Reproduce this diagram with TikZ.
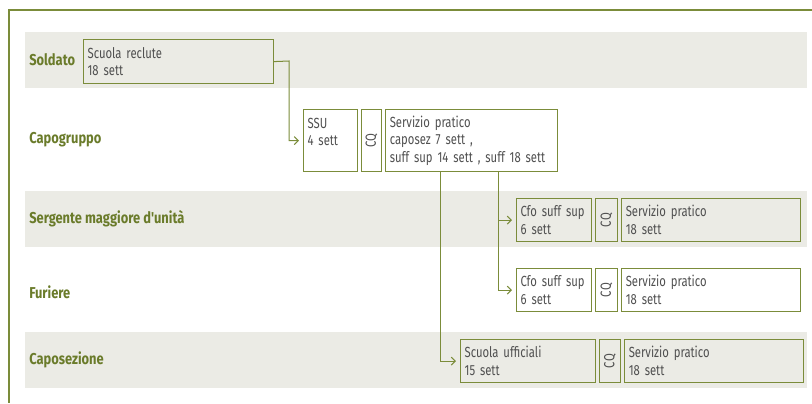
\documentclass[tikz,border=0pt]{standalone}
\usepackage{fontspec}
\setmainfont{Fira Sans}[FakeStretch=0.77]
\newfontfamily\rankfont{Fira Sans}[FakeStretch=0.82]
\usetikzlibrary{positioning}
\usetikzlibrary{arrows.meta}
\definecolor{lineColor}{HTML}{7B8C3A}
\definecolor{labelColor}{HTML}{6A7B2A}
\definecolor{textColor}{HTML}{505050}
\definecolor{bandColor}{HTML}{EBEBE5}

\begin{document}
\begin{tikzpicture}[x=0.75pt,y=-0.75pt]

            \tikzstyle{frame} = [line width=1.4pt, lineColor];
            \tikzstyle{band} = [fill=bandColor];
            \tikzstyle{rank} = [anchor=west, inner sep=0pt, text=labelColor, font=\rankfont\fontsize{11.8}{13}\selectfont\bfseries];
            \tikzstyle{stage} = [draw=lineColor, line width=0.9pt, text=textColor, align=left, anchor=north west,
                                 inner xsep=3pt, inner ysep=2pt, font=\fontsize{11}{13.2}\selectfont];
            \tikzstyle{cqbox} = [draw=lineColor, line width=0.9pt, text=textColor, inner sep=0pt,
                                 font=\fontsize{11}{12}\selectfont];
            \tikzstyle{flow} = [lineColor, line width=0.75pt, -{Straight Barb[length=3pt,width=6pt]}, shorten >=3pt];

            \useasboundingbox (0,0) rectangle (812,403);

            % frame and bands
            \draw[frame] (812,10) -- (9,10) -- (9,403);
            \fill[band] (25,32) rectangle (807,88);
            \fill[band] (25,191) rectangle (807,247);
            \fill[band] (25,332) rectangle (807,388);

            % ranks
            \node[rank] (soldato)    at (29,60)  {Soldato};
            \node[rank] (capogruppo) at (29,140) {Capogruppo};
            \node[rank] (sergente)   at (29,219) {Sergente maggiore d'unità};
            \node[rank] (furiere)    at (29,292) {Furiere};
            \node[rank] (caposez)    at (29,360) {Caposezione};

            % soldato
            \node[stage, text width=136.35pt, minimum height=33pt] (reclute) at (83,39) {Scuola reclute\\18 sett};

            % capogruppo
            \node[stage, text width=34.35pt, minimum height=46.5pt] (ssu) at (303,109) {SSU\\4 sett\\\phantom{0}};
            \node[cqbox, minimum width=15pt, minimum height=46.5pt, right=2.25pt of ssu] (cqA) {\rotatebox{90}{CQ}};
            \node[stage, text width=122.85pt, minimum height=46.5pt, anchor=west, right=2.25pt of cqA] (praticoA)
                {Servizio pratico\\caposez 7 sett ,\\suff sup 14 sett , suff 18 sett};

            % sergente maggiore
            \node[stage, text width=50.1pt, minimum height=32.25pt] (cfoA) at (516,198) {Cfo suff sup\\6 sett};
            \node[cqbox, minimum width=16.5pt, minimum height=32.25pt, right=2.25pt of cfoA] (cqB) {\rotatebox{90}{CQ}};
            \node[stage, text width=128.1pt, minimum height=32.25pt, anchor=west, right=2.25pt of cqB] (praticoB) {Servizio pratico\\18 sett};

            % furiere
            \node[stage, text width=50.1pt, minimum height=32.25pt] (cfoB) at (516,268) {Cfo suff sup\\6 sett};
            \node[cqbox, minimum width=16.5pt, minimum height=32.25pt, right=2.25pt of cfoB] (cqC) {\rotatebox{90}{CQ}};
            \node[stage, text width=128.1pt, minimum height=32.25pt, anchor=west, right=2.25pt of cqC] (praticoC) {Servizio pratico\\18 sett};

            % caposezione
            \node[stage, text width=95.1pt, minimum height=32.25pt] (ufficiali) at (460,339) {Scuola ufficiali\\15 sett};
            \node[cqbox, minimum width=15.75pt, minimum height=32.25pt, right=2.25pt of ufficiali] (cqD) {\rotatebox{90}{CQ}};
            \node[stage, text width=128.1pt, minimum height=32.25pt, anchor=west, right=2.25pt of cqD] (praticoD) {Servizio pratico\\18 sett};

            % connectors
            \coordinate (turnA) at (289,61);
            \coordinate (dropA) at (440,0);
            \coordinate (dropB) at (498,0);

            \draw[flow] (reclute.east) -- (turnA) |- (ssu.west);
            \draw[flow] (praticoA.south -| dropA) |- (ufficiali.west);
            \draw[flow] (praticoA.south -| dropB) |- (cfoA.west);
            \draw[flow] (praticoA.south -| dropB) |- (cfoB.west);
          \end{tikzpicture}
\end{document}
